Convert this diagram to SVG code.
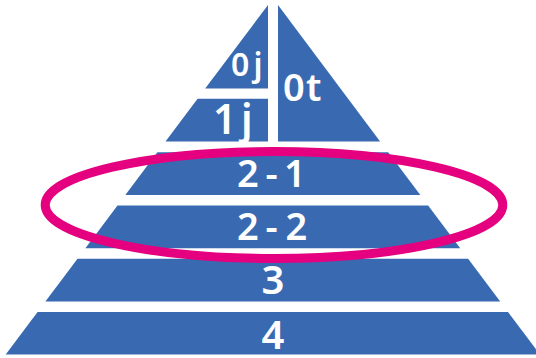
<svg xmlns="http://www.w3.org/2000/svg" width="536" height="358" viewBox="0 0 536 358">
  <style>
    .layer { fill: #396AB1; }
    .lbl { fill: #FFFFFF; font-family: "Noto Sans", "DejaVu Sans", sans-serif; font-weight: 600; }
    .ring { fill: none; stroke: #E4007F; stroke-width: 9; }
  </style>
  <rect width="536" height="358" fill="#FFFFFF"/>
  <g id="layer-0j">
    <polygon class="layer" points="268,5 268,88.5 205.2,88.5"/>
    <text class="lbl" font-size="32" x="231 253.5" y="76">0j</text>
  </g>
  <g id="layer-0t">
    <polygon class="layer" points="278,5 278,141.5 380.1,141.5"/>
    <text class="lbl" font-size="38" x="283 306" y="100.5">0t</text>
  </g>
  <g id="layer-1j">
    <polygon class="layer" points="197.6,98.7 268,98.7 268,141.5 165.5,141.5"/>
    <text class="lbl" font-size="41" x="213 241" y="133.5">1j</text>
  </g>
  <g id="layer-2-1">
    <polygon class="layer" points="157.4,152.2 388.2,152.2 420.3,195 125.3,195"/>
    <text class="lbl" font-size="38" x="237 265.5 284" y="187">2-1</text>
  </g>
  <g id="layer-2-2">
    <polygon class="layer" points="117.5,205.5 428.1,205.5 460.2,248.3 85.4,248.3"/>
    <text class="lbl" font-size="38" x="237 265.5 285.5" y="240">2-2</text>
  </g>
  <g id="layer-3">
    <polygon class="layer" points="77.5,258.8 468.1,258.8 500.2,301.6 45.4,301.6"/>
    <text class="lbl" font-size="40" x="273" y="294.4" text-anchor="middle">3</text>
  </g>
  <g id="layer-4">
    <polygon class="layer" points="37.6,312 508,312 539.9,354.5 5.7,354.5"/>
    <text class="lbl" font-size="40" x="273" y="349" text-anchor="middle">4</text>
  </g>
  <g id="highlight">
    <ellipse class="ring" cx="274" cy="205" rx="228.8" ry="53.5"/>
  </g>
</svg>
